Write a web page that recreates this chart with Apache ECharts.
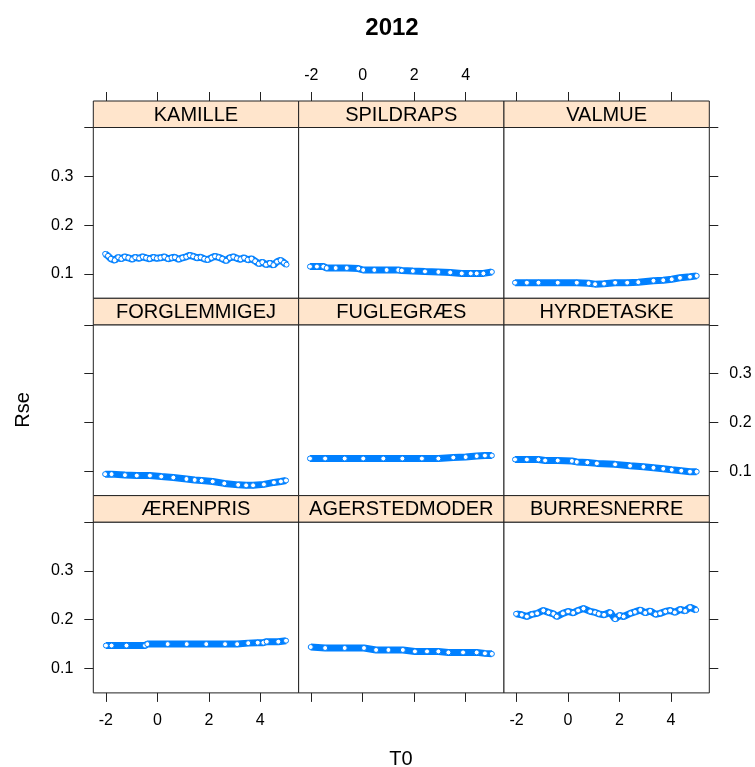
<!DOCTYPE html>
<html>
<head>
<meta charset="utf-8">
<script src="https://cdn.jsdelivr.net/npm/echarts@6.0.0/dist/echarts.min.js"></script>
<style>
  html, body { margin: 0; padding: 0; background: #fff; }
  #chart { width: 755px; height: 767px; }
</style>
</head>
<body>
<div id="chart"></div>
<script>
var panelNames = ['KAMILLE', 'SPILDRAPS', 'VALMUE',
                  'FORGLEMMIGEJ', 'FUGLEGRÆS', 'HYRDETASKE',
                  'ÆRENPRIS', 'AGERSTEDMODER', 'BURRESNERRE'];

var xTicks = [-2, 0, 2, 4];
var yTicks = [0.1, 0.2, 0.3, 0.4];
var yLabels = [0.1, 0.2, 0.3];

// T0 / Rse per panel
var kamilleT0 = [-2.03,-1.92,-1.81,-1.66,-1.52,-1.40,-1.27,-1.13,-0.98,-0.86,-0.71,-0.57,-0.44,-0.30,-0.15,-0.02,0.12,0.27,0.41,0.55,0.68,0.83,0.97,1.12,1.26,1.39,1.53,1.68,1.82,1.95,2.10,2.24,2.38,2.52,2.67,2.81,2.95,3.09,3.23,3.37,3.51,3.66,3.80,3.94,4.08,4.22,4.37,4.51,4.65,4.79,4.92,5.02];
var kamilleRse = [0.141,0.137,0.131,0.128,0.134,0.131,0.135,0.133,0.130,0.134,0.132,0.135,0.133,0.131,0.134,0.132,0.133,0.135,0.131,0.133,0.134,0.130,0.133,0.135,0.138,0.136,0.133,0.134,0.131,0.129,0.133,0.136,0.134,0.131,0.127,0.133,0.135,0.132,0.130,0.133,0.129,0.131,0.126,0.121,0.124,0.119,0.122,0.118,0.125,0.128,0.123,0.119];

var spildrapsT0 = [-2.05,-1.78,-1.53,-1.40,-1.05,-0.62,-0.17,0.02,0.45,0.93,1.38,1.52,1.95,2.42,2.94,3.40,3.85,4.20,4.43,4.69,5.02];
var spildrapsRse = [0.115,0.115,0.115,0.112,0.112,0.112,0.111,0.108,0.108,0.108,0.108,0.107,0.106,0.105,0.104,0.103,0.101,0.101,0.101,0.101,0.104];

var valmueT0 = [-2.06,-1.60,-1.15,-0.40,0.34,0.80,1.05,1.40,1.83,2.30,2.73,3.32,3.70,4.03,4.35,4.74,5.00];
var valmueRse = [0.082,0.082,0.082,0.082,0.082,0.081,0.079,0.080,0.082,0.082,0.083,0.086,0.087,0.089,0.092,0.094,0.096];

var forglemT0 = [-2.03,-1.78,-1.26,-0.80,-0.29,0.15,0.62,1.13,1.45,1.72,2.15,2.60,3.14,3.45,3.72,4.14,4.53,4.80,5.00];
var forglemRse = [0.094,0.094,0.092,0.091,0.091,0.089,0.087,0.084,0.082,0.081,0.079,0.075,0.072,0.071,0.071,0.073,0.077,0.079,0.081];

var fugleT0 = [-2.05,-1.46,-0.70,0.02,0.80,1.54,2.30,2.94,3.52,4.00,4.43,4.75,5.02];
var fugleRse = [0.126,0.126,0.126,0.126,0.126,0.126,0.126,0.126,0.128,0.129,0.131,0.132,0.132];

var hyrdeT0 = [-2.06,-1.60,-1.15,-0.89,-0.40,0.15,0.34,0.75,1.12,1.83,2.41,2.93,3.32,3.70,4.03,4.40,4.74,5.00];
var hyrdeRse = [0.124,0.124,0.124,0.122,0.122,0.121,0.119,0.118,0.116,0.114,0.111,0.109,0.107,0.105,0.103,0.101,0.099,0.099];

var aerenT0 = [-2.00,-1.78,-1.20,-0.48,-0.39,0.40,1.14,1.90,2.63,3.10,3.53,3.90,4.12,4.25,4.70,5.00];
var aerenRse = [0.147,0.147,0.147,0.147,0.150,0.150,0.150,0.150,0.150,0.150,0.152,0.153,0.153,0.155,0.155,0.157];

var agerT0 = [-2.02,-1.46,-0.70,0.05,0.52,1.00,1.56,2.03,2.50,2.94,3.33,3.90,4.43,4.75,5.02];
var agerRse = [0.144,0.142,0.142,0.142,0.138,0.138,0.138,0.135,0.135,0.135,0.133,0.133,0.133,0.131,0.130];

var burreT0 = [-2.02,-1.80,-1.60,-1.40,-1.20,-0.96,-0.76,-0.57,-0.44,-0.20,0.00,0.20,0.39,0.60,0.86,1.05,1.19,1.40,1.64,1.83,2.00,2.16,2.42,2.60,2.81,3.00,3.19,3.40,3.58,3.78,3.97,4.15,4.36,4.55,4.74,4.98];
var burreRse = [0.212,0.210,0.2065,0.211,0.213,0.219,0.215,0.212,0.2065,0.213,0.217,0.214,0.219,0.223,0.217,0.215,0.212,0.210,0.215,0.201,0.209,0.2065,0.213,0.216,0.220,0.214,0.218,0.211,0.213,0.217,0.219,0.215,0.221,0.218,0.2255,0.220];

var panelT0 = [kamilleT0, spildrapsT0, valmueT0, forglemT0, fugleT0, hyrdeT0, aerenT0, agerT0, burreT0];
var panelRse = [kamilleRse, spildrapsRse, valmueRse, forglemRse, fugleRse, hyrdeRse, aerenRse, agerRse, burreRse];

var FONT = '"Liberation Sans", Arial, sans-serif';
var BLUE = '#0080ff';
var LINE = '#222';

// layout
var plotL = 93.3, plotR = 709.3;
var colW = (plotR - plotL) / 3;
var top0 = 101, rowH = 197.3, stripH = 26.5;

var grids = [], xAxes = [], yAxes = [], series = [], graphics = [];

for (var i = 0; i < 9; i++) {
  var r = Math.floor(i / 3), c = i % 3;
  var left = plotL + c * colW;
  var stripTop = top0 + r * rowH;

  grids.push({
    left: left, top: stripTop + stripH, width: colW, height: rowH - stripH,
    show: true, borderColor: LINE, borderWidth: 1, backgroundColor: '#fff'
  });

  xAxes.push({
    type: 'value', gridIndex: i, min: -2.49, max: 5.49,
    position: r === 0 ? 'top' : 'bottom',
    offset: r === 0 ? stripH : 0,
    axisLine: { show: false, onZero: false },
    splitLine: { show: false },
    axisTick: { show: r !== 1, length: 9, customValues: xTicks, lineStyle: { color: LINE } },
    axisLabel: {
      show: (r === 0 && c === 1) || (r === 2 && c !== 1),
      customValues: xTicks, margin: r === 0 ? 17 : 20,
      fontSize: 16, color: '#000', fontFamily: FONT
    }
  });

  yAxes.push({
    type: 'value', gridIndex: i, min: 0.05, max: 0.4,
    position: c === 2 ? 'right' : 'left',
    axisLine: { show: false, onZero: false },
    splitLine: { show: false },
    axisTick: { show: c !== 1, length: 9, customValues: yTicks, lineStyle: { color: LINE } },
    axisLabel: {
      show: (c === 0 && r !== 1) || (c === 2 && r === 1),
      customValues: yLabels, margin: 20,
      fontSize: 16, color: '#000', fontFamily: FONT,
      formatter: function (v) { return v.toFixed(1); }
    }
  });

  var pts = [];
  for (var k = 0; k < panelT0[i].length; k++) pts.push([panelT0[i][k], panelRse[i][k]]);

  series.push({
    type: 'line', xAxisIndex: i, yAxisIndex: i, data: pts,
    symbol: 'circle', symbolSize: 5, showSymbol: true,
    itemStyle: { color: '#fff', borderColor: BLUE, borderWidth: 1 },
    lineStyle: { color: BLUE, width: 7 },
    emphasis: { disabled: true }, silent: true
  });

  // strip
  graphics.push({
    type: 'rect', shape: { x: left, y: stripTop, width: colW, height: stripH },
    style: { fill: '#ffe5cc', stroke: LINE, lineWidth: 1 }, z: 10
  });
  graphics.push({
    type: 'text', x: left + colW / 2, y: stripTop + stripH / 2 + 1,
    style: { text: panelNames[i], fill: '#000', font: '20px ' + FONT, textAlign: 'center', textVerticalAlign: 'middle' },
    z: 11
  });
}

graphics.push({
  type: 'text', x: 392, y: 28,
  style: { text: '2012', fill: '#000', font: 'bold 24px ' + FONT, textAlign: 'center', textVerticalAlign: 'middle' }
});
graphics.push({
  type: 'text', x: 401, y: 759,
  style: { text: 'T0', fill: '#000', font: '20px ' + FONT, textAlign: 'center', textVerticalAlign: 'middle' }
});
graphics.push({
  type: 'text', x: 23, y: 410, rotation: Math.PI / 2,
  style: { text: 'Rse', fill: '#000', font: '20px ' + FONT, textAlign: 'center', textVerticalAlign: 'middle' }
});

var myChart = echarts.init(document.getElementById('chart'));
myChart.setOption({
  animation: false,
  grid: grids,
  xAxis: xAxes,
  yAxis: yAxes,
  series: series,
  graphic: graphics
});
</script>
</body>
</html>
